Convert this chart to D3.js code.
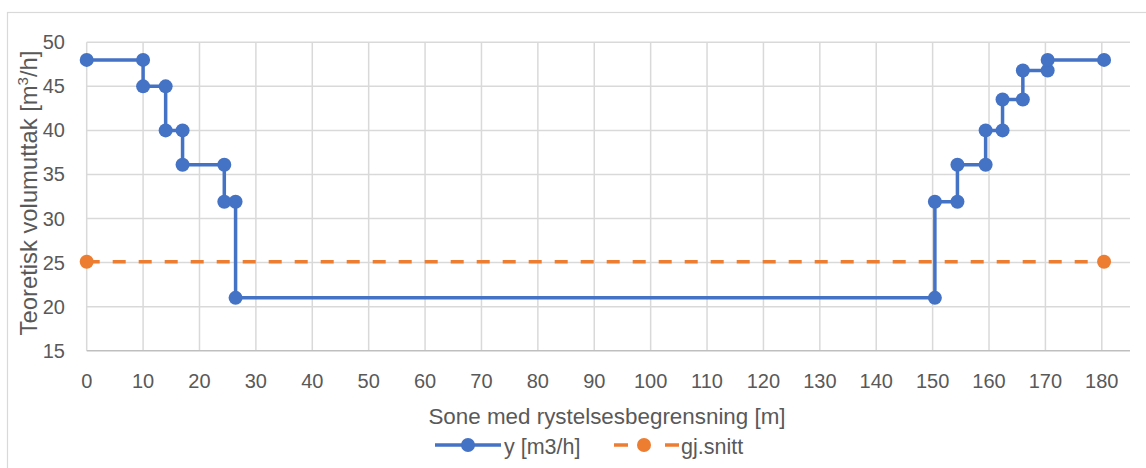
<!DOCTYPE html>
<html>
<head>
<meta charset="utf-8">
<script src="https://cdn.jsdelivr.net/npm/d3@7"></script>
<style>
  html, body { margin: 0; padding: 0; background: #fff; }
  svg { display: block; font-family: "Liberation Sans", Arial, sans-serif; }
</style>
</head>
<body>
<svg id="chart" width="1146" height="468"></svg>
<script>
// ---- data ----
const seriesYName = "y [m3/h]";
const seriesAvgName = "gj.snitt";
const yX = [0, 10, 10, 14, 14, 17, 17, 24.4, 24.4, 26.4, 26.4, 150.4, 150.4, 154.4, 154.4, 159.4, 159.4, 162.4, 162.4, 166, 166, 170.4, 170.4, 180.4];
const yY = [48, 48, 45, 45, 40, 40, 36.1, 36.1, 31.9, 31.9, 21, 21, 31.9, 31.9, 36.1, 36.1, 40, 40, 43.5, 43.5, 46.8, 46.8, 48, 48];
const avgX = [0, 180.4];
const avgY = [25.1, 25.1];
const xTicks = [0, 10, 20, 30, 40, 50, 60, 70, 80, 90, 100, 110, 120, 130, 140, 150, 160, 170, 180];
const yTicks = [15, 20, 25, 30, 35, 40, 45, 50];
const xTitle = "Sone med rystelsesbegrensning [m]";

(function () {
// ---- layout ----
const svg = d3.select("#chart");
const pLeft = 86.7, pRight = 1130, pTop = 42.3, pBottom = 350.7;
const x = d3.scaleLinear().domain([0, 185]).range([pLeft, pRight]);
const y = d3.scaleLinear().domain([15, 50]).range([pBottom, pTop]);
const blue = "#4472C4", orange = "#ED7D31", textCol = "#595959", gridCol = "#D9D9D9";

// chart border
svg.append("rect").attr("x", 7.5).attr("y", 12.5).attr("width", 1200).attr("height", 500)
  .attr("fill", "none").attr("stroke", gridCol).attr("stroke-width", 1.2);

// gridlines
svg.append("g").selectAll("line").data(yTicks.filter(d => d !== 15)).join("line")
  .attr("x1", pLeft).attr("x2", pRight).attr("y1", d => y(d)).attr("y2", d => y(d))
  .attr("stroke", gridCol).attr("stroke-width", 1.5);
svg.append("g").selectAll("line").data(xTicks).join("line")
  .attr("x1", d => x(d)).attr("x2", d => x(d)).attr("y1", pTop).attr("y2", pBottom)
  .attr("stroke", gridCol).attr("stroke-width", 1.5);
// bottom axis line
svg.append("line").attr("x1", pLeft).attr("x2", pRight).attr("y1", pBottom).attr("y2", pBottom)
  .attr("stroke", "#BFBFBF").attr("stroke-width", 1.5);

// tick labels
svg.append("g").selectAll("text").data(xTicks).join("text")
  .attr("x", d => x(d)).attr("y", 387.5).attr("text-anchor", "middle")
  .attr("font-size", 20).attr("fill", textCol).text(d => d);
svg.append("g").selectAll("text").data(yTicks).join("text")
  .attr("x", 65).attr("y", d => y(d) + 7).attr("text-anchor", "end")
  .attr("font-size", 20).attr("fill", textCol).text(d => d);

// axis titles
svg.append("text").attr("x", 607).attr("y", 424).attr("text-anchor", "middle")
  .attr("font-size", 22.4).attr("fill", textCol).text(xTitle);
const yt = svg.append("text").attr("transform", "translate(37,193) rotate(-90)")
  .attr("text-anchor", "middle").attr("font-size", 23.8).attr("fill", textCol);
yt.append("tspan").text("Teoretisk volumuttak [m");
yt.append("tspan").attr("font-size", 15).attr("dy", -9).text("3");
yt.append("tspan").attr("dy", 9).text("/h]");

// series y
const line = d3.line().x(d => x(d[0])).y(d => y(d[1]));
const yPts = yX.map((v, i) => [v, yY[i]]);
svg.append("path").datum(yPts).attr("d", line).attr("fill", "none")
  .attr("stroke", blue).attr("stroke-width", 3.5).attr("stroke-linejoin", "round");
svg.append("g").selectAll("circle").data(yPts).join("circle")
  .attr("cx", d => x(d[0])).attr("cy", d => y(d[1])).attr("r", 7).attr("fill", blue);

// series avg
const avgPts = avgX.map((v, i) => [v, avgY[i]]);
svg.append("path").datum(avgPts).attr("d", line).attr("fill", "none")
  .attr("stroke", orange).attr("stroke-width", 3.5).attr("stroke-dasharray", "13,13");
svg.append("g").selectAll("circle").data(avgPts).join("circle")
  .attr("cx", d => x(d[0])).attr("cy", d => y(d[1])).attr("r", 7).attr("fill", orange);

// legend
const ly = 445;
svg.append("line").attr("x1", 435).attr("x2", 501).attr("y1", ly).attr("y2", ly)
  .attr("stroke", blue).attr("stroke-width", 3.5);
svg.append("circle").attr("cx", 468).attr("cy", ly).attr("r", 7).attr("fill", blue);
svg.append("text").attr("x", 504).attr("y", ly + 9).attr("font-size", 21.5).attr("fill", textCol).text(seriesYName);
svg.append("line").attr("x1", 614).attr("x2", 628).attr("y1", ly).attr("y2", ly)
  .attr("stroke", orange).attr("stroke-width", 3.5);
svg.append("line").attr("x1", 665).attr("x2", 679).attr("y1", ly).attr("y2", ly)
  .attr("stroke", orange).attr("stroke-width", 3.5);
svg.append("circle").attr("cx", 644).attr("cy", ly).attr("r", 7).attr("fill", orange);
svg.append("text").attr("x", 681).attr("y", ly + 9).attr("font-size", 21.5).attr("fill", textCol).text(seriesAvgName);
})();
</script>
</body>
</html>
